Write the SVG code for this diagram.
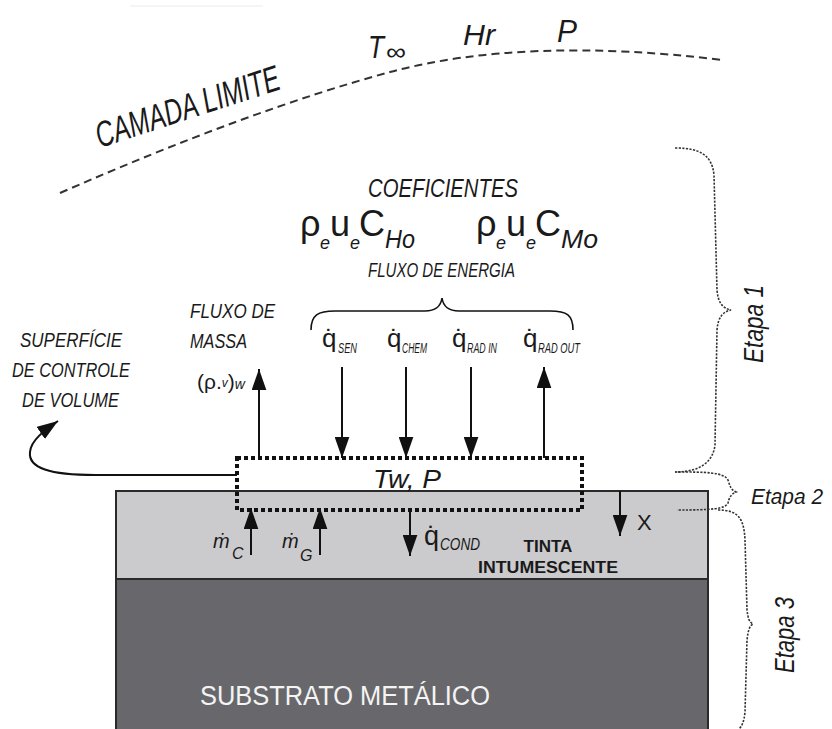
<svg xmlns="http://www.w3.org/2000/svg" width="832" height="729" viewBox="0 0 832 729">
<defs>
<style>
.hw{font-family:"Liberation Sans","DejaVu Sans",sans-serif;font-style:italic;fill:#1a1a1a}
.sans{font-family:"Liberation Sans","DejaVu Sans",sans-serif;fill:#1a1a1a}
.arr{stroke:#111;stroke-width:2;fill:none;marker-end:url(#ah)}
.brace{stroke:#333;stroke-width:1.6;fill:none;stroke-dasharray:2.2 1.4}
</style>
<marker id="ah" viewBox="0 0 20 14" refX="20" refY="7" markerWidth="21" markerHeight="15" markerUnits="userSpaceOnUse" orient="auto">
<path d="M0,0 L20,7 L0,14 z" fill="#111"/>
</marker>
</defs>
<rect width="832" height="729" fill="#ffffff"/>
<line x1="130" y1="6" x2="263" y2="6" stroke="#f2f2f2" stroke-width="1.5"/>

<g id="camada-limite">
<path d="M60,193 Q250,110 390,72 Q525,36 723,60" fill="none" stroke="#333" stroke-width="2" stroke-dasharray="8 5"/>
<text class="hw" font-size="36" transform="translate(100,148) rotate(-18)" textLength="192" lengthAdjust="spacingAndGlyphs">CAMADA LIMITE</text>
<text class="hw" font-size="32" x="368" y="58" textLength="16" lengthAdjust="spacingAndGlyphs">T</text>
<text class="sans" font-size="24" x="386" y="60" textLength="20" lengthAdjust="spacingAndGlyphs">∞</text>
<text class="hw" font-size="30" x="463" y="45" textLength="32" lengthAdjust="spacingAndGlyphs">Hr</text>
<text class="hw" font-size="32" x="557" y="42" textLength="20" lengthAdjust="spacingAndGlyphs">P</text>
</g>

<g id="coeficientes">
<text class="hw" font-size="26" x="368" y="197" textLength="150" lengthAdjust="spacingAndGlyphs">COEFICIENTES</text>
<text class="sans" font-size="36" x="300" y="236">ρ</text>
<text class="hw" font-size="18" x="320" y="249">e</text>
<text class="sans" font-size="36" x="330" y="236">u</text>
<text class="hw" font-size="18" x="350" y="249">e</text>
<text class="sans" font-size="36" x="359" y="236">C</text>
<text class="hw" font-size="26" x="385" y="248" textLength="30" lengthAdjust="spacingAndGlyphs">Ho</text>
<text class="sans" font-size="36" x="476" y="236">ρ</text>
<text class="hw" font-size="18" x="496" y="249">e</text>
<text class="sans" font-size="36" x="506" y="236">u</text>
<text class="hw" font-size="18" x="526" y="249">e</text>
<text class="sans" font-size="36" x="535" y="236">C</text>
<text class="hw" font-size="26" x="561" y="248" textLength="37" lengthAdjust="spacingAndGlyphs">Mo</text>
<text class="hw" font-size="21" x="368" y="277" textLength="147" lengthAdjust="spacingAndGlyphs">FLUXO DE ENERGIA</text>
<path d="M311,330 C311,315 318,311 335,311 L425,311 C437,311 441,305 442,298 C443,305 447,311 459,311 L550,311 C567,311 573,315 573,330" fill="none" stroke="#111" stroke-width="1.6"/>
</g>

<g id="q-labels">
<text class="sans" font-size="26" x="322" y="347">q̇</text>
<text class="hw" font-size="14" x="338" y="353" textLength="19" lengthAdjust="spacingAndGlyphs">SEN</text>
<text class="sans" font-size="26" x="387" y="347">q̇</text>
<text class="hw" font-size="14" x="402" y="353" textLength="25" lengthAdjust="spacingAndGlyphs">CHEM</text>
<text class="sans" font-size="26" x="452" y="347">q̇</text>
<text class="hw" font-size="14" x="467" y="353" textLength="30" lengthAdjust="spacingAndGlyphs">RAD IN</text>
<text class="sans" font-size="26" x="523" y="347">q̇</text>
<text class="hw" font-size="14" x="538" y="353" textLength="42" lengthAdjust="spacingAndGlyphs">RAD OUT</text>
</g>

<g id="massa-label">
<text class="hw" font-size="21" x="190" y="318" textLength="85" lengthAdjust="spacingAndGlyphs">FLUXO DE</text>
<text class="hw" font-size="21" x="190" y="348" textLength="57" lengthAdjust="spacingAndGlyphs">MASSA</text>
<text class="sans" font-size="21" x="197" y="389">(ρ.<tspan font-style="italic" font-size="12" dy="-2">v</tspan><tspan dy="2">)</tspan><tspan font-style="italic" font-size="14">w</tspan></text>
</g>

<g id="superficie-label">
<text class="hw" font-size="21" x="20" y="347" textLength="102" lengthAdjust="spacingAndGlyphs">SUPERFÍCIE</text>
<text class="hw" font-size="21" x="12" y="377" textLength="118" lengthAdjust="spacingAndGlyphs">DE CONTROLE</text>
<text class="hw" font-size="21" x="22" y="407" textLength="97" lengthAdjust="spacingAndGlyphs">DE VOLUME</text>
</g>

<g id="tinta">
<rect x="116" y="491" width="592" height="88" fill="#cbcbcd" stroke="#2a2a2a" stroke-width="2"/>
<text class="sans" font-size="17" font-weight="bold" x="548" y="552" text-anchor="middle">TINTA</text>
<text class="sans" font-size="17" font-weight="bold" x="548" y="573" text-anchor="middle" textLength="140" lengthAdjust="spacingAndGlyphs">INTUMESCENTE</text>
</g>

<g id="substrato">
<rect x="116" y="579" width="592" height="152" fill="#68686c" stroke="#2a2a2a" stroke-width="2"/>
<text class="sans" font-size="27" x="345" y="705" text-anchor="middle" style="fill:#f4f4f4" textLength="290" lengthAdjust="spacingAndGlyphs">SUBSTRATO METÁLICO</text>
</g>

<g id="volume-controle">
<rect x="237" y="458" width="345" height="52" fill="none" stroke="#111" stroke-width="4" stroke-dasharray="4 3"/>
<text class="hw" font-size="26" x="407" y="488" text-anchor="middle" textLength="68" lengthAdjust="spacingAndGlyphs">Tw, P</text>
</g>

<g id="bottom-labels">
<text class="hw" font-size="20" x="213" y="548">ṁ</text>
<text class="hw" font-size="16" x="232" y="559">C</text>
<text class="hw" font-size="20" x="282" y="548">ṁ</text>
<text class="hw" font-size="16" x="300" y="561">G</text>
<text class="sans" font-size="27" x="424" y="545">q̇</text>
<text class="hw" font-size="16" x="440" y="550" textLength="40" lengthAdjust="spacingAndGlyphs">COND</text>
<text class="sans" font-size="22" x="637" y="530">X</text>
</g>

<g id="etapas">
<path class="brace" d="M675,148 C700,148 712,155 714,175 L717,290 C718,302 722,308 731,310 C722,312 718,318 717,330 L715,445 C713,462 700,472 675,472"/>
<path class="brace" d="M675,472 C705,472 724,472 728,480 C730,486 731,490 736,492 C731,494 729,498 728,503 C725,509 712,510 677,510"/>
<path class="brace" d="M718,510 C738,510 744,518 745,540 L747,610 C748,618 749,622 753,624 C749,626 748,632 747,640 L745,712 C744,722 742,726 739,729"/>
<text class="hw" font-size="28" transform="translate(763,324) rotate(-90)" text-anchor="middle" textLength="78" lengthAdjust="spacingAndGlyphs">Etapa 1</text>
<text class="hw" font-size="22" x="751" y="504" textLength="72" lengthAdjust="spacingAndGlyphs">Etapa 2</text>
<text class="hw" font-size="28" transform="translate(794,635) rotate(-90)" text-anchor="middle" textLength="76" lengthAdjust="spacingAndGlyphs">Etapa 3</text>
</g>

<g id="connectors">
<line class="arr" x1="342" y1="367" x2="342" y2="458"/>
<line class="arr" x1="406" y1="367" x2="406" y2="458"/>
<line class="arr" x1="471" y1="367" x2="471" y2="458"/>
<line class="arr" x1="544" y1="458" x2="544" y2="367"/>
<line class="arr" x1="259" y1="456" x2="259" y2="369"/>
<path class="arr" d="M237,475 L95,475 C50,475 28,468 30,452 C31,440 45,430 58,421"/>
<line class="arr" x1="251" y1="555" x2="251" y2="508"/>
<line class="arr" x1="320" y1="555" x2="320" y2="508"/>
<line class="arr" x1="410" y1="510" x2="410" y2="556"/>
<line class="arr" x1="620" y1="491" x2="620" y2="536"/>
</g>
</svg>
